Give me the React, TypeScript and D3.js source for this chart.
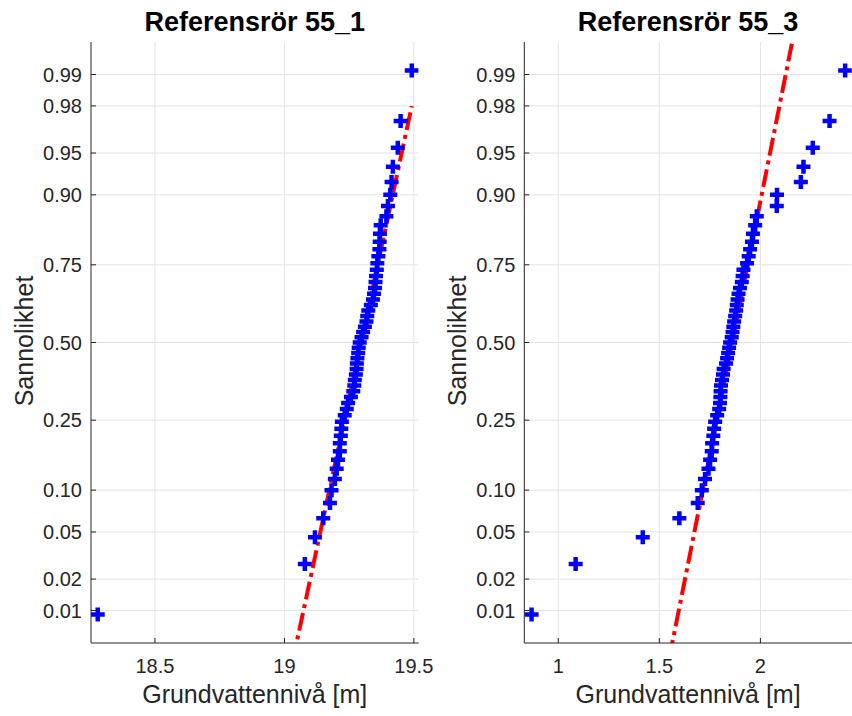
import React from "react";
import * as d3 from "d3";

// sorted groundwater levels [m], one per plotted point (n = 55)
const level551 = [
  18.279, 19.079, 19.118, 19.15, 19.176, 19.182, 19.195, 19.202, 19.207, 19.214,
  19.214, 19.218, 19.22, 19.222, 19.233, 19.241, 19.246, 19.257, 19.266, 19.27,
  19.272, 19.276, 19.279, 19.28, 19.282, 19.285, 19.287, 19.291, 19.298, 19.304,
  19.311, 19.317, 19.32, 19.324, 19.334, 19.342, 19.346, 19.35, 19.352, 19.354,
  19.357, 19.359, 19.363, 19.367, 19.368, 19.369, 19.372, 19.394, 19.4, 19.409,
  19.414, 19.419, 19.438, 19.449, 19.492,
];
const level553 = [
  0.868, 1.086, 1.418, 1.599, 1.69, 1.71, 1.726, 1.743, 1.751, 1.759,
  1.761, 1.767, 1.771, 1.776, 1.786, 1.796, 1.8, 1.802, 1.803, 1.805,
  1.81, 1.815, 1.818, 1.83, 1.835, 1.84, 1.845, 1.85, 1.858, 1.862,
  1.866, 1.87, 1.875, 1.88, 1.883, 1.887, 1.892, 1.899, 1.908, 1.912,
  1.916, 1.934, 1.942, 1.949, 1.958, 1.963, 1.974, 1.982, 2.081, 2.082,
  2.2, 2.213, 2.259, 2.342, 2.419,
];

const titles = ["Referensrör 55_1", "Referensrör 55_3"];
const fitMu = [19.296, 1.8605];
const fitSigma = [0.0955, 0.1137];
const xLimits = [
  [18.253, 19.518],
  [0.832, 2.452],
];
const xTicks = [
  [18.5, 19, 19.5],
  [1, 1.5, 2],
];
const probTicks = [0.01, 0.02, 0.05, 0.1, 0.25, 0.5, 0.75, 0.9, 0.95, 0.98, 0.99];

// inverse normal cdf (Acklam)
function norminv(p: number) {
  const a = [-39.69683028665376, 220.9460984245205, -275.9285104469687, 138.357751867269, -30.66479806614716, 2.506628277459239];
  const b = [-54.47609879822406, 161.5858368580409, -155.6989798598866, 66.80131188771972, -13.28068155288572];
  const c = [-0.007784894002430293, -0.3223964580411365, -2.400758277161838, -2.549732539343734, 4.374664141464968, 2.938163982698783];
  const d = [0.007784695709041462, 0.3224671290700398, 2.445134137142996, 3.754408661907416];
  const pl = 0.02425;
  let q, r;
  if (p < pl) {
    q = Math.sqrt(-2 * Math.log(p));
    return (((((c[0] * q + c[1]) * q + c[2]) * q + c[3]) * q + c[4]) * q + c[5]) /
      ((((d[0] * q + d[1]) * q + d[2]) * q + d[3]) * q + 1);
  }
  if (p > 1 - pl) {
    q = Math.sqrt(-2 * Math.log(1 - p));
    return -(((((c[0] * q + c[1]) * q + c[2]) * q + c[3]) * q + c[4]) * q + c[5]) /
      ((((d[0] * q + d[1]) * q + d[2]) * q + d[3]) * q + 1);
  }
  q = p - 0.5;
  r = q * q;
  return ((((((a[0] * r + a[1]) * r + a[2]) * r + a[3]) * r + a[4]) * r + a[5]) * q) /
    (((((b[0] * r + b[1]) * r + b[2]) * r + b[3]) * r + b[4]) * r + 1);
}

const font = "'Liberation Sans', Arial, Helvetica, sans-serif";
const top = 42;
const bottom = 643;
const plotW = 327.5;

function Panel({ idx, left }) {
  const data = idx === 0 ? level551 : level553;
  const n = data.length;
  const zLim = norminv(0.25 / n);
  const x = d3.scaleLinear().domain(xLimits[idx]).range([left, left + plotW]);
  const y = d3.scaleLinear().domain([zLim, -zLim]).range([bottom, top]);
  const mu = fitMu[idx];
  const sd = fitSigma[idx];
  const xmin = d3.min(data);
  const xmax = d3.max(data);
  const fitLine = d3.line<number>()
    .x((v) => x(v))
    .y((v) => y((v - mu) / sd));
  const clipId = `clip${idx}`;
  const arm = 7;

  return (
    <g>
      <defs>
        <clipPath id={clipId}>
          <rect x={left} y={top} width={plotW} height={bottom - top} />
        </clipPath>
      </defs>
      {/* grid */}
      {xTicks[idx].map((t) => (
        <line key={"gx" + t} x1={x(t)} x2={x(t)} y1={top} y2={bottom} stroke="#e3e3e3" strokeWidth={1} />
      ))}
      {probTicks.map((p) => (
        <line key={"gy" + p} x1={left} x2={left + plotW} y1={y(norminv(p))} y2={y(norminv(p))} stroke="#e3e3e3" strokeWidth={1} />
      ))}
      <g clipPath={`url(#${clipId})`}>
        <path
          d={fitLine([xmin, xmax])}
          fill="none"
          stroke="#ff0000"
          strokeWidth={4}
          strokeDasharray="18 5 4 5"
        />
        {data.map((v, i) => {
          const cx = x(v);
          const cy = y(norminv((i + 0.5) / n));
          return (
            <path
              key={i}
              d={`M${cx - arm},${cy}H${cx + arm}M${cx},${cy - arm}V${cy + arm}`}
              stroke="#0000ff"
              strokeWidth={4.5}
              fill="none"
            />
          );
        })}
      </g>
      {/* axes */}
      <line x1={left} x2={left} y1={top} y2={bottom} stroke="#262626" strokeWidth={1} />
      <line x1={left} x2={left + plotW} y1={bottom} y2={bottom} stroke="#262626" strokeWidth={1} />
      {xTicks[idx].map((t) => (
        <g key={"tx" + t}>
          <line x1={x(t)} x2={x(t)} y1={bottom} y2={bottom - 5} stroke="#262626" />
          <text x={x(t)} y={673} textAnchor="middle" fontSize={20} fill="#262626" fontFamily={font}>
            {t}
          </text>
        </g>
      ))}
      {probTicks.map((p) => (
        <g key={"ty" + p}>
          <line x1={left} x2={left + 5} y1={y(norminv(p))} y2={y(norminv(p))} stroke="#262626" />
          <text x={left - 9} y={y(norminv(p))} dy="0.36em" textAnchor="end" fontSize={20} fill="#262626" fontFamily={font}>
            {p.toFixed(2)}
          </text>
        </g>
      ))}
      <text x={left + plotW / 2} y={31} textAnchor="middle" fontSize={27} fontWeight="bold" fill="#000" fontFamily={font}>
        {titles[idx]}
      </text>
      <text x={left + plotW / 2} y={703} textAnchor="middle" fontSize={25} fill="#262626" fontFamily={font}>
        Grundvattennivå [m]
      </text>
      <text
        transform={`translate(${left - 58},${341}) rotate(-90)`}
        textAnchor="middle"
        fontSize={25}
        fill="#262626"
        fontFamily={font}
      >
        Sannolikhet
      </text>
    </g>
  );
}

export default function App() {
  return (
    <svg
      width={852}
      height={716}
      style={{ position: "absolute", left: 0, top: 0, background: "#fff" }}
    >
      <rect width={852} height={716} fill="#fff" />
      <Panel idx={0} left={91} />
      <Panel idx={1} left={524.3} />
    </svg>
  );
}
